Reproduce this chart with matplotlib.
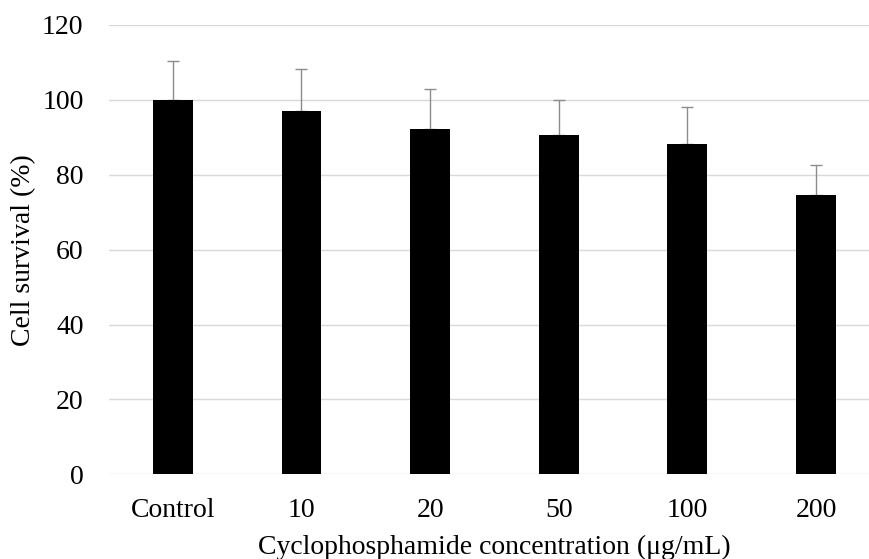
import matplotlib
matplotlib.use("Agg")
import matplotlib.pyplot as plt

categories = ["Control", "10", "20", "50", "100", "200"]
survival = [100.0, 97.1, 92.1, 90.5, 88.1, 74.6]
error_up = [10.5, 11.2, 10.9, 9.6, 9.9, 8.1]
yticks = [0, 20, 40, 60, 80, 100, 120]

plt.rcParams['font.family'] = ['Liberation Serif', 'DejaVu Serif']

fig = plt.figure(figsize=(8.7, 5.59), dpi=100)
ax = fig.add_axes([0.1248, 0.1515, 0.887, 0.8038])

x = list(range(len(categories)))
ax.bar(x, survival, width=0.31, color='black', zorder=3)
ax.errorbar(x, survival, yerr=[[0]*len(x), error_up], fmt='none',
            ecolor='#8c8c8c', elinewidth=1.0, capsize=4, capthick=1.0, zorder=2)

ax.set_xlim(-0.5, 5.5)
ax.set_ylim(0, 120)
ax.set_yticks(yticks)
ax.set_xticks(x)
ax.set_xticklabels(categories)
ax.grid(axis='y', color='#d9d9d9', linewidth=1.0, zorder=0)
for s in ax.spines.values():
    s.set_visible(False)
ax.tick_params(axis='both', length=0, labelsize=20, colors='black')
ax.tick_params(axis='x', pad=17)
ax.tick_params(axis='y', pad=18)
ax.set_xlabel("Cyclophosphamide concentration (μg/mL)", fontsize=20, labelpad=8.5)
ax.set_ylabel("Cell survival (%)", fontsize=20, labelpad=4)

fig.savefig("out.png", dpi=100)
